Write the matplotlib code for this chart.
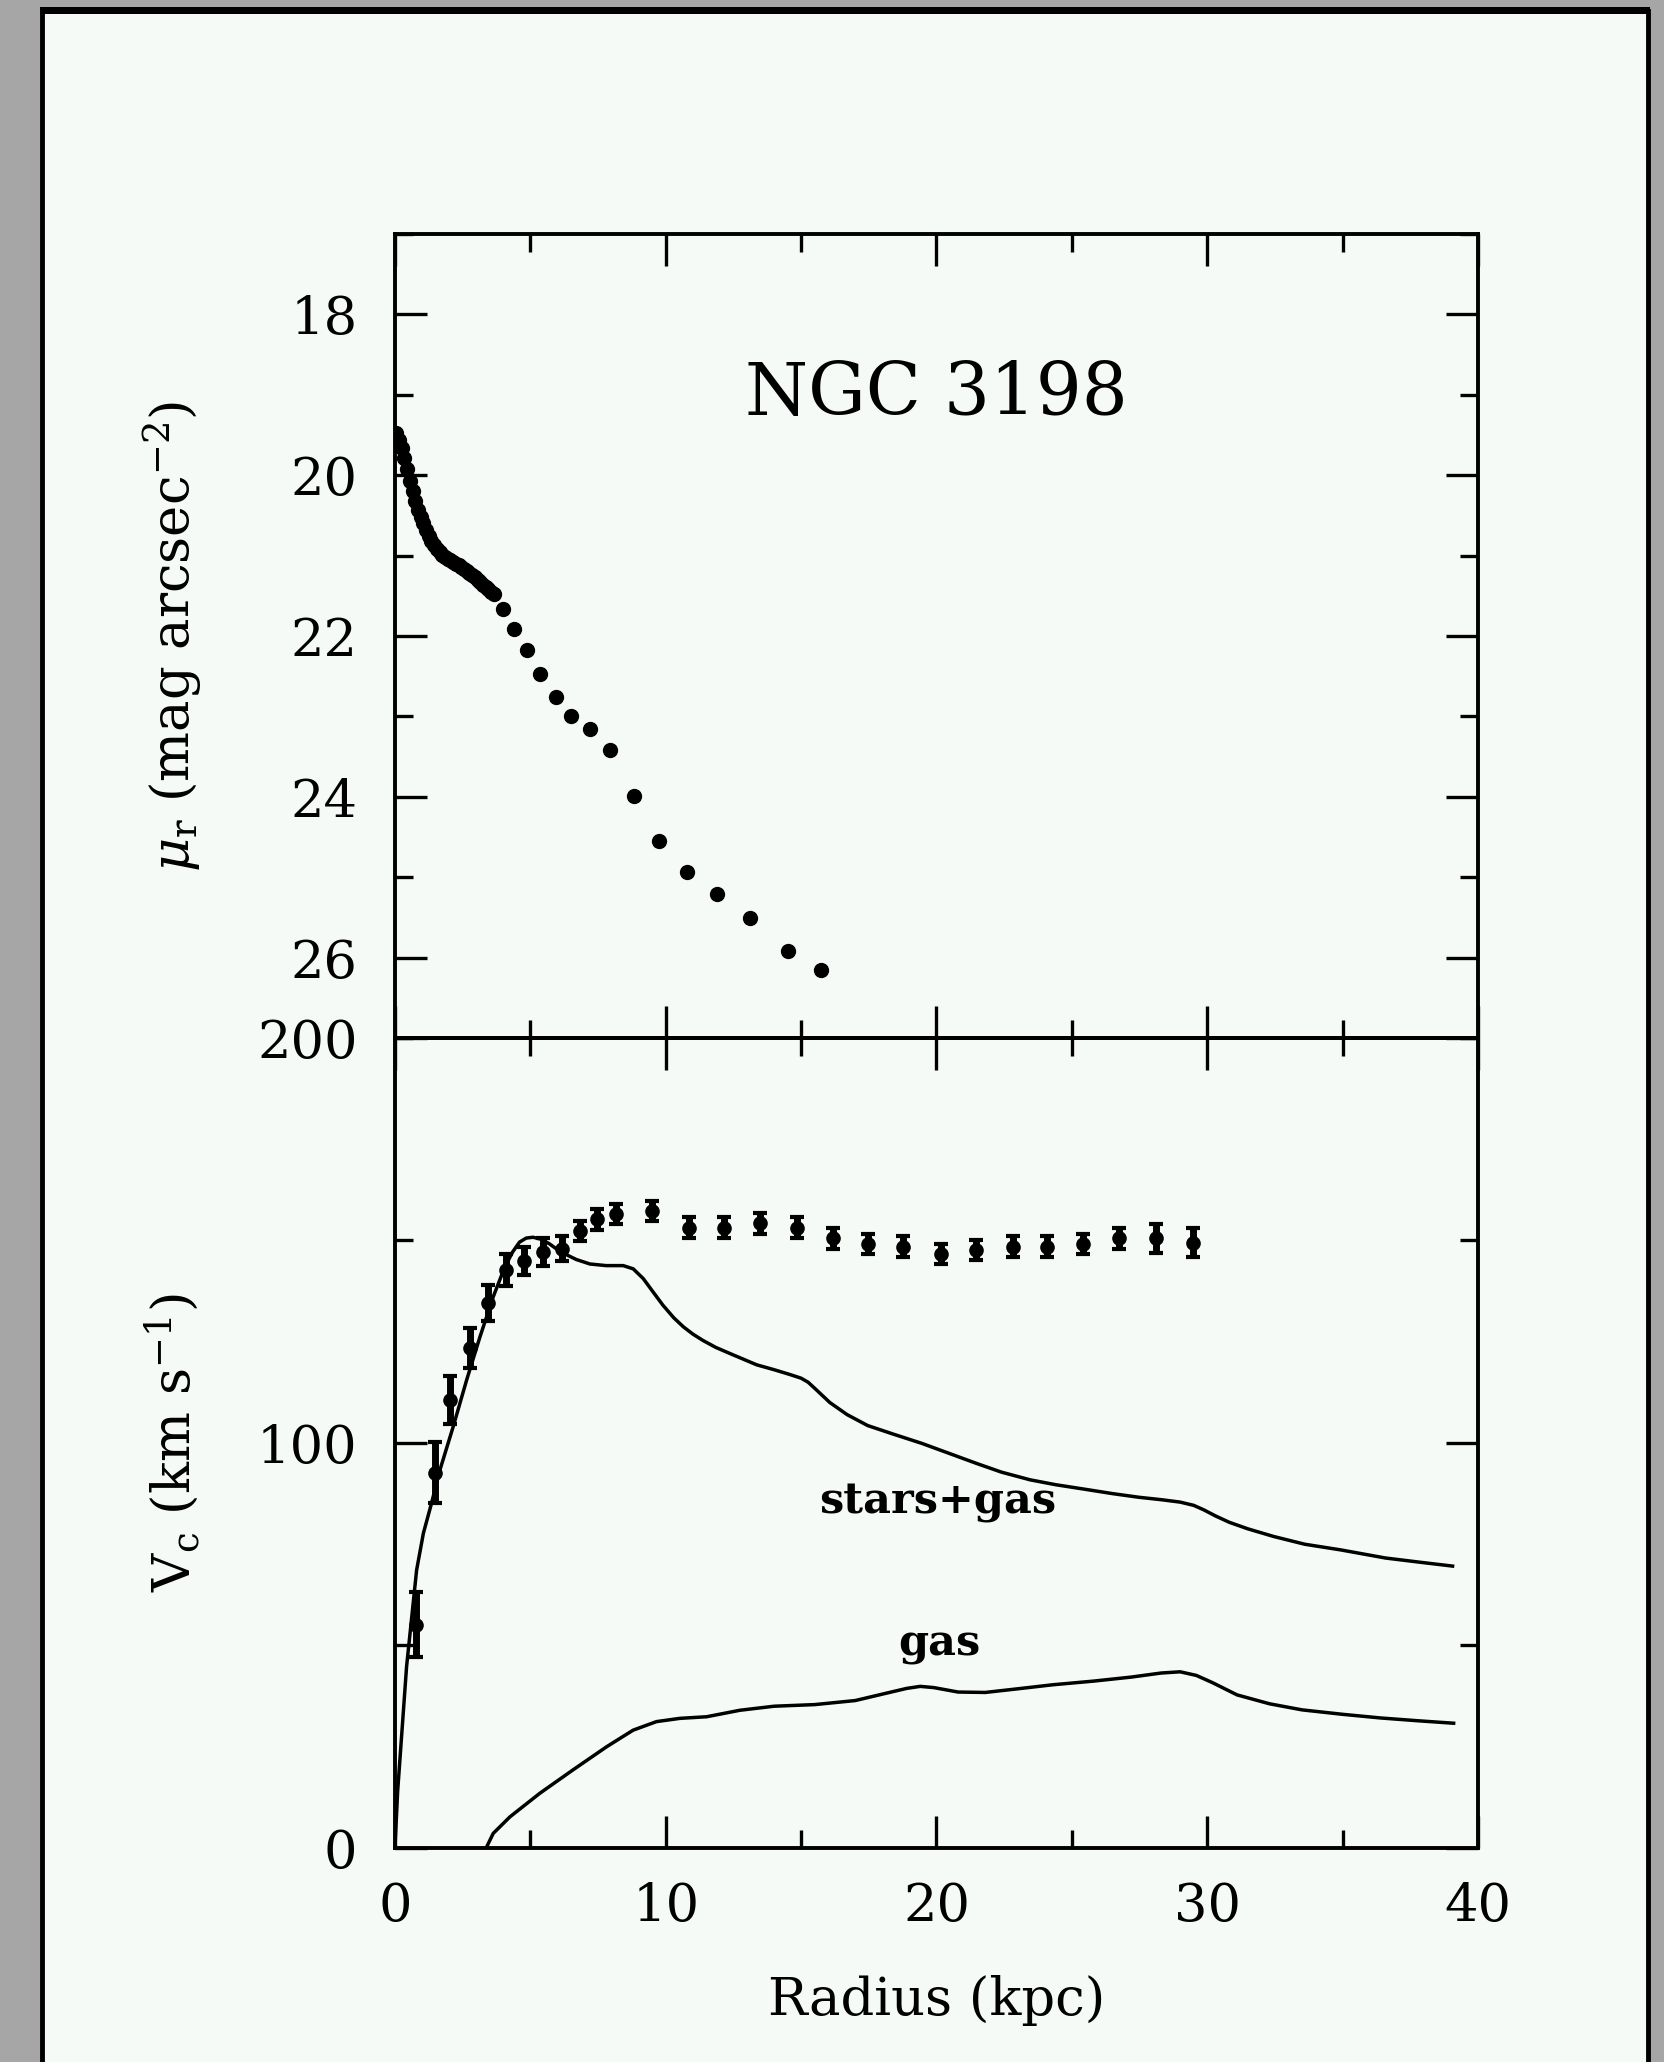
import numpy as np
import matplotlib
matplotlib.use("Agg")
import matplotlib.pyplot as plt
from matplotlib.ticker import MultipleLocator
from matplotlib.patches import Rectangle

plt.rcParams['font.family'] = ['DejaVu Serif']
plt.rcParams['mathtext.fontset'] = 'dejavuserif'

# r-band surface brightness profile (kpc, mag/arcsec^2)
r_phot = [0.05, 0.15, 0.25, 0.35, 0.45, 0.55, 0.65, 0.75, 0.85, 0.95,
          1.05, 1.15, 1.25, 1.35, 1.45, 1.55, 1.65, 1.75, 1.85, 1.95,
          2.05, 2.15, 2.25, 2.35, 2.45, 2.55, 2.65, 2.75, 2.85, 2.95,
          3.05, 3.15, 3.25, 3.35, 3.45, 3.55, 3.65,
          3.98, 4.39, 4.86, 5.37, 5.93, 6.52, 7.20, 7.94, 8.83, 9.76,
          10.77, 11.90, 13.13, 14.52, 15.72]
mu_r = [19.48, 19.56, 19.66, 19.78, 19.92, 20.07, 20.20, 20.32, 20.43, 20.52,
        20.60, 20.68, 20.75, 20.82, 20.87, 20.92, 20.96, 20.99, 21.02, 21.04,
        21.06, 21.08, 21.10, 21.12, 21.14, 21.17, 21.19, 21.21, 21.24, 21.27,
        21.30, 21.33, 21.36, 21.39, 21.42, 21.45, 21.48,
        21.66, 21.91, 22.18, 22.47, 22.76, 22.99, 23.16, 23.42, 23.99, 24.55,
        24.93, 25.21, 25.51, 25.92, 26.16]

# observed rotation curve
r_rot = [0.78, 1.48, 2.03, 2.77, 3.42, 4.12, 4.76, 5.45, 6.16, 6.83, 7.47,
         8.16, 9.50, 10.86, 12.16, 13.50, 14.86, 16.17, 17.46, 18.78, 20.15,
         21.47, 22.82, 24.10, 25.40, 26.74, 28.10, 29.46]
v_rot = [55.1, 92.7, 110.6, 123.4, 134.5, 142.7, 145.0, 147.2, 148.0, 152.4,
         155.2, 156.5, 157.3, 153.2, 153.2, 154.2, 153.2, 150.5, 149.1, 148.5,
         146.7, 147.7, 148.5, 148.5, 149.1, 150.5, 150.5, 149.5]
v_err = [8.0, 7.5, 6.0, 5.0, 4.5, 4.0, 3.5, 3.5, 3.0, 2.5, 2.5, 2.5, 2.5, 2.5,
         2.5, 2.5, 2.5, 2.5, 2.5, 2.5, 2.5, 2.5, 2.5, 2.5, 2.5, 2.5, 3.5, 3.5]

# model curves
r_sg = [0.0, 0.1, 0.25, 0.43, 0.62, 0.8, 1.05, 1.35, 1.66, 2.15, 2.65, 3.14,
        3.63, 4.06, 4.35, 4.6, 4.85, 5.1, 5.4, 5.7, 5.97, 6.3, 6.7, 7.2, 7.8,
        8.43, 8.8, 9.17, 9.5, 9.9, 10.3, 10.65, 11.0, 11.38, 11.85, 12.37,
        13.36, 14.0, 14.59, 15.0, 15.26, 15.6, 16.06, 16.7, 17.46, 18.4,
        19.46, 20.4, 21.46, 22.4, 23.46, 24.4, 25.46, 26.5, 27.47, 28.3, 29.0,
        29.5, 29.87, 30.3, 30.82, 31.5, 32.46, 33.6, 34.93, 36.58, 37.8, 39.06]
v_sg = [0, 14, 28, 44.8, 57, 68.6, 77.7, 85.1, 93.3, 104, 115.6, 126.2,
        136.1, 143.5, 147.2, 149.6, 150.6, 150.8, 150.3, 149.2, 147.9, 146.6,
        145.3, 144.2, 143.8, 143.8, 143.0, 140.6, 137.6, 134.0, 130.9, 128.7,
        126.9, 125.3, 123.6, 122.1, 119.3, 118.1, 116.9, 116.0, 115.0, 112.9,
        110.0, 107.0, 104.3, 102.2, 99.9, 97.6, 95.0, 92.8, 90.9, 89.7, 88.6,
        87.5, 86.6, 86.0, 85.4, 84.6, 83.5, 82.0, 80.4, 78.8, 76.9, 75.0,
        73.6, 71.6, 70.6, 69.6]

r_gas = [3.39, 3.63, 4.25, 5.35, 6.58, 7.82, 8.8, 9.66, 10.52, 11.51, 12.74,
         14.0, 15.5, 17.0, 18.2, 18.9, 19.4, 19.9, 20.8, 21.8, 23.0, 24.3,
         25.8, 27.2, 28.3, 29.0, 29.6, 30.2, 31.1, 32.3, 33.5, 35.0, 36.4,
         37.8, 39.1]
v_gas = [0.3, 3.6, 7.7, 13.5, 19.3, 25, 29.1, 31.2, 32, 32.4, 34, 35, 35.4,
         36.4, 38.3, 39.4, 39.9, 39.6, 38.5, 38.4, 39.3, 40.3, 41.2, 42.2,
         43.2, 43.5, 42.6, 40.8, 37.8, 35.6, 34.1, 33.0, 32.1, 31.4, 30.8]

fig = plt.figure(figsize=(16.65, 20.62), dpi=100)
fig.patch.set_facecolor('#a6a6a6')
paper = '#f6faf7'
fig.patches.append(Rectangle((0.0252, -0.01), 0.9646, 1.0047,
                             transform=fig.transFigure, facecolor=paper,
                             edgecolor='black', linewidth=3.5, zorder=-5))
# heavier top edge of the frame
fig.patches.append(Rectangle((0.0242, 0.9932), 0.9666, 0.0032,
                             transform=fig.transFigure, facecolor='black',
                             edgecolor='none', zorder=-4))

ax1 = fig.add_axes([0.2372, 0.4966, 0.6505, 0.3899])
ax2 = fig.add_axes([0.2372, 0.1038, 0.6505, 0.3928])

for ax in (ax1, ax2):
    ax.set_facecolor('none')
    for s in ax.spines.values():
        s.set_linewidth(2.8)
    ax.tick_params(which='both', direction='in', top=True, right=True,
                   width=2.4, labelsize=38)
    ax.tick_params(which='major', length=23)
    ax.tick_params(which='minor', length=13)
    ax.tick_params(axis='y', pad=27)
    ax.tick_params(axis='x', pad=24)
    ax.set_xlim(0, 40)
    ax.xaxis.set_major_locator(MultipleLocator(10))
    ax.xaxis.set_minor_locator(MultipleLocator(5))

# top: surface brightness
ax1.plot(r_phot, mu_r, 'o', color='black', markersize=10)
ax1.set_ylim(27, 17)
ax1.yaxis.set_major_locator(MultipleLocator(2))
ax1.yaxis.set_minor_locator(MultipleLocator(1))
ax1.tick_params(labelbottom=False)
ax1.set_ylabel(r'$\mu_{\rm r}$ (mag arcsec$^{-2}$)', fontsize=38)
ax1.yaxis.set_label_coords(-0.176, 0.5)
ax1.text(20, 19.0, 'NGC 3198', fontsize=52, ha='center', va='center')

# bottom: rotation curve
ax2.plot(r_sg, v_sg, color='black', linewidth=2.5)
ax2.plot(r_gas, v_gas, color='black', linewidth=2.5)
ax2.errorbar(r_rot, v_rot, yerr=v_err, fmt='o', color='black', markersize=9.5,
             elinewidth=5, capsize=4.7, capthick=3)
ax2.set_ylim(0, 200)
ax2.yaxis.set_major_locator(MultipleLocator(100))
ax2.yaxis.set_minor_locator(MultipleLocator(50))
ax2.set_ylabel(r'V$_{\rm c}$ (km s$^{-1}$)', fontsize=38)
ax2.yaxis.set_label_coords(-0.178, 0.5)
ax2.set_xlabel('Radius (kpc)', fontsize=38, labelpad=31)
ax2.text(20.05, 85.4, 'stars+gas', fontsize=31, ha='center', va='center',
         fontweight='semibold')
ax2.text(20.1, 50.4, 'gas', fontsize=31, ha='center', va='center',
         fontweight='semibold')

fig.savefig('out.png', dpi=100, facecolor=fig.get_facecolor())
